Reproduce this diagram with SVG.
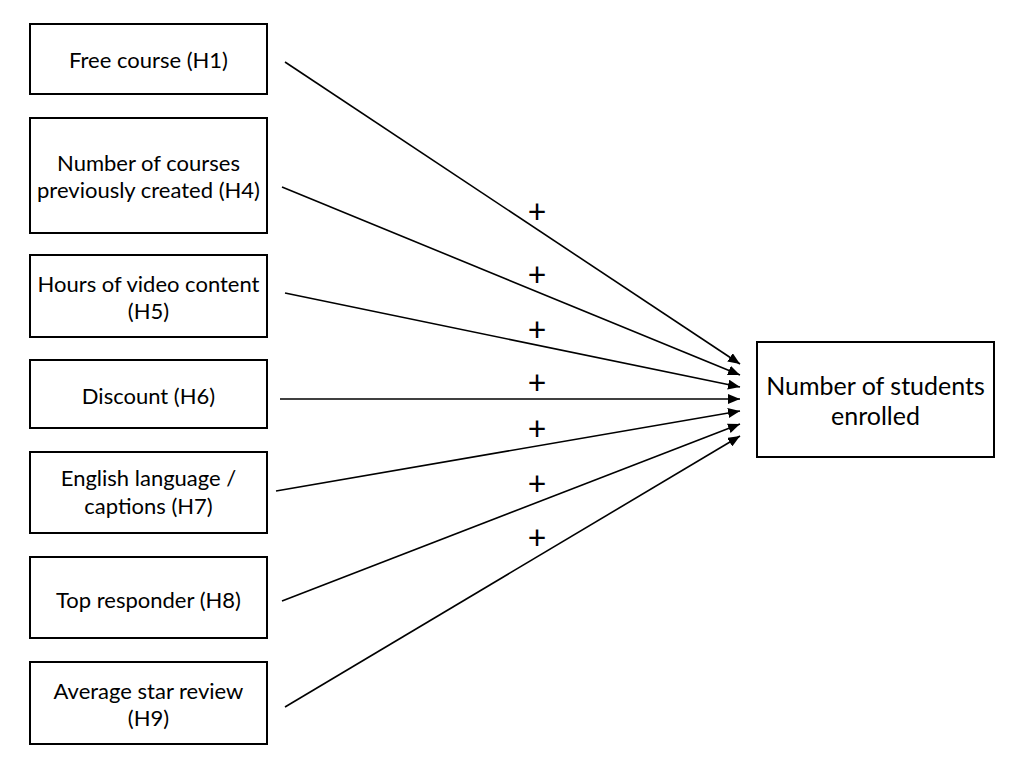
<svg xmlns="http://www.w3.org/2000/svg" width="1024" height="768" viewBox="0 0 1024 768">
<defs>
<style>
.box{fill:#fff;stroke:#000;stroke-width:2}
.t{font-family:Lato,"Liberation Sans",sans-serif;font-size:22px;fill:#000;text-anchor:middle}
.tb{font-family:Lato,"Liberation Sans",sans-serif;font-size:25px;fill:#000;text-anchor:middle}
.e{stroke:#000;stroke-width:1.6;fill:none;marker-end:url(#ah)}
.p{font-family:Lato,"Liberation Sans",sans-serif;font-size:32px;fill:#000;text-anchor:middle}
</style>
<marker id="ah" viewBox="0 0 12 10" refX="12" refY="5" markerWidth="12" markerHeight="10" markerUnits="userSpaceOnUse" orient="auto"><path d="M0,0 L12,5 L0,10 z" fill="#000"/></marker>
</defs>
<rect width="1024" height="768" fill="#fff"/>
<g id="n1"><rect class="box" x="30" y="24" width="237" height="70"/><text class="t" x="148.5" y="68">Free course (H1)</text></g>
<g id="n4"><rect class="box" x="30" y="118" width="237" height="115"/><text class="t" x="148.5" y="171">Number of courses</text><text class="t" x="148.5" y="198">previously created (H4)</text></g>
<g id="n5"><rect class="box" x="30" y="255" width="237" height="82"/><text class="t" x="148.5" y="292">Hours of video content</text><text class="t" x="148.5" y="319">(H5)</text></g>
<g id="n6"><rect class="box" x="30" y="360" width="237" height="68"/><text class="t" x="148.5" y="404">Discount (H6)</text></g>
<g id="n7"><rect class="box" x="30" y="452" width="237" height="81"/><text class="t" x="148.5" y="486">English language /</text><text class="t" x="148.5" y="514">captions (H7)</text></g>
<g id="n8"><rect class="box" x="30" y="557" width="237" height="81"/><text class="t" x="148.5" y="608">Top responder (H8)</text></g>
<g id="n9"><rect class="box" x="30" y="662" width="237" height="82"/><text class="t" x="148.5" y="699">Average star review</text><text class="t" x="148.5" y="726">(H9)</text></g>
<g id="target"><rect class="box" x="757" y="342" width="237" height="115"/><text class="tb" x="875.5" y="395">Number of students</text><text class="tb" x="875.5" y="425">enrolled</text></g>
<g id="connectors">
<line class="e" x1="285" y1="62" x2="740" y2="364"/>
<line class="e" x1="282" y1="187" x2="740" y2="375"/>
<line class="e" x1="285" y1="293" x2="740" y2="387"/>
<line class="e" x1="280" y1="399" x2="740" y2="399"/>
<line class="e" x1="276" y1="491" x2="740" y2="411"/>
<line class="e" x1="282" y1="601" x2="740" y2="424"/>
<line class="e" x1="285" y1="707" x2="740" y2="436"/>
<text class="p" x="537" y="223">+</text>
<text class="p" x="537" y="286">+</text>
<text class="p" x="537" y="341">+</text>
<text class="p" x="537" y="394">+</text>
<text class="p" x="537" y="440">+</text>
<text class="p" x="537" y="495">+</text>
<text class="p" x="537" y="549">+</text>
</g>
</svg>
